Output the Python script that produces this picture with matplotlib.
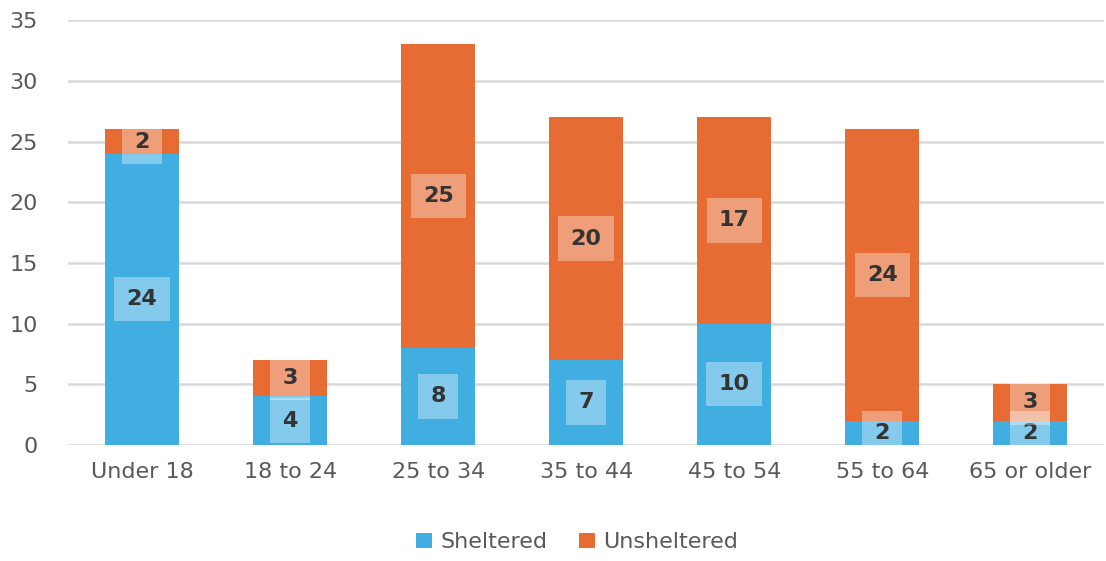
import numpy as np
import matplotlib.pyplot as plt

categories = ["Under 18", "18 to 24", "25 to 34", "35 to 44", "45 to 54", "55 to 64", "65 or older"]
sheltered = [24, 4, 8, 7, 10, 2, 2]
unsheltered = [2, 3, 25, 20, 17, 24, 3]

blue = "#41AEE2"
orange = "#E66C34"
grey = "#595959"

fig = plt.figure(figsize=(11.06, 5.61), dpi=100)
ax = fig.add_axes([0.0615, 0.207, 0.937, 0.757])

x = np.arange(len(categories))
b1 = ax.bar(x, sheltered, width=0.5, color=blue, label="Sheltered", zorder=2)
b2 = ax.bar(x, unsheltered, width=0.5, bottom=sheltered, color=orange, label="Unsheltered", zorder=2)

for bars in (b1, b2):
    for r in bars:
        h = r.get_height()
        cx = r.get_x() + r.get_width() / 2
        cy = r.get_y() + h / 2
        ax.text(cx, cy, f"{int(h)}", ha="center", va="center", fontsize=16, fontweight="bold",
                color="#333333", zorder=3,
                bbox=dict(boxstyle="square,pad=0.55", facecolor="white", alpha=0.35, edgecolor="none"))

ax.set_ylim(0, 35)
ax.set_xlim(-0.5, len(categories) - 0.5)
ax.set_yticks(range(0, 36, 5))
ax.set_xticks(x)
ax.set_xticklabels(categories)
ax.tick_params(axis="both", length=0, labelsize=16, labelcolor=grey)
ax.tick_params(axis="x", pad=12)
ax.tick_params(axis="y", pad=22)
ax.grid(axis="y", color="#D9D9D9", linewidth=1.8, zorder=0)
for s in ax.spines.values():
    s.set_visible(False)

fig.legend(handles=[b1, b2], loc="lower center", bbox_to_anchor=(0.522, -0.02), ncol=2, frameon=False,
           fontsize=16, labelcolor=grey, handlelength=0.7, handleheight=0.7, handletextpad=0.4,
           columnspacing=1.4)

fig.savefig("out.png", dpi=100)
